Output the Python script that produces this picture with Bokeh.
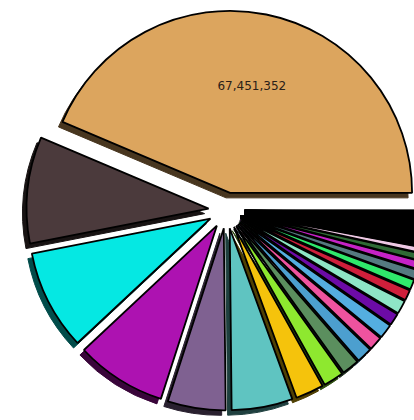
import math
from bokeh.plotting import figure
from bokeh.models import ColumnDataSource, Range1d
from bokeh.embed import file_html
from bokeh.resources import INLINE
from bokeh.core.properties import value

# ---- data ----
main_values = [67451352, 14607000, 13748000, 12459000, 7948000, 8378000,
               3867000, 2793000, 2363000, 2148000, 1890000, 1976000,
               1633000, 1847000, 1461000, 1375000, 1289000, 1117000,
               945000, 773000]
main_colors = ["#dca55e", "#4b3a3c", "#05e8e3", "#ad12b1", "#7f6191", "#5fc4c1",
               "#f5c30c", "#8ee82f", "#5b8f5e", "#4c9fcf", "#ee539f", "#54aee0",
               "#6c0ba6", "#8ee5c6", "#cf1f3b", "#2fe96b", "#557a80", "#c522c6",
               "#2f6a35", "#eec9e4"]
tail_values = [200000, 195000, 190000, 186000, 182000, 177000, 172000, 168000,
               163000, 159000, 154000, 150000, 146000, 141000, 137000, 133000,
               128000, 124000, 120000, 115000, 111000, 107000, 102000, 98000,
               94000, 89000, 85000, 81000, 76000, 72000, 68000, 63000, 59000,
               55000, 50000, 46000, 42000, 38000, 34000, 30000]
tail_palette = ["#0a0a0a", "#0a0a0a", "#1c1c1c", "#0a0a0a", "#0a0a0a", "#222222"]

values = main_values + tail_values
colors = main_colors + [tail_palette[i % len(tail_palette)] for i in range(len(tail_values))]

# ---- layout / style ----
W, H = 414, 420
CX, CY = 226.0, -210.0
R = 182.0
EXPLODE = 18.0
SHX, SHY = -4.0, -5.0

def darken(h, f=0.33):
    h = h.lstrip("#")
    r, g, b = (int(h[i:i + 2], 16) for i in (0, 2, 4))
    return "#%02x%02x%02x" % (int(r * f), int(g * f), int(b * f))

total = float(sum(values))
sh = dict(x=[], y=[], start=[], end=[], fill=[])
wd = dict(x=[], y=[], start=[], end=[], fill=[])
acc = 0.0
centers = []
for v, c in zip(values, colors):
    a0 = 2 * math.pi * acc / total
    acc += v
    a1 = 2 * math.pi * acc / total
    mid = (a0 + a1) / 2
    ox = CX + EXPLODE * math.cos(mid)
    oy = CY + EXPLODE * math.sin(mid)
    centers.append((ox, oy, mid))
    sh["x"].append(ox + SHX); sh["y"].append(oy + SHY)
    sh["start"].append(a0); sh["end"].append(a1); sh["fill"].append(darken(c))
    wd["x"].append(ox); wd["y"].append(oy)
    wd["start"].append(a0); wd["end"].append(a1); wd["fill"].append(c)

p = figure(width=W, height=H, output_backend="svg", toolbar_location=None,
           x_range=Range1d(0, W), y_range=Range1d(-H, 0),
           min_border=0)
p.axis.visible = False
p.grid.visible = False
p.outline_line_color = None
p.background_fill_color = "white"
p.border_fill_color = "white"

p.wedge(x="x", y="y", radius=R, start_angle="start", end_angle="end",
        fill_color="fill", line_color="fill", line_width=1.0,
        source=ColumnDataSource(sh))
p.wedge(x="x", y="y", radius=R, start_angle="start", end_angle="end",
        fill_color="fill", line_color="black", line_width=1.8,
        source=ColumnDataSource(wd))

ox, oy, mid = centers[0]
tx = ox + 0.6 * R * math.cos(mid)
ty = oy + 0.6 * R * math.sin(mid)
p.text(x=[tx], y=[ty], text=["{:,}".format(main_values[0])],
       text_font=value("DejaVu Sans"), text_font_size="12px",
       text_align="center", text_baseline="middle", text_color="#2a2018")

open("out.html", "w").write(file_html(p, INLINE))
